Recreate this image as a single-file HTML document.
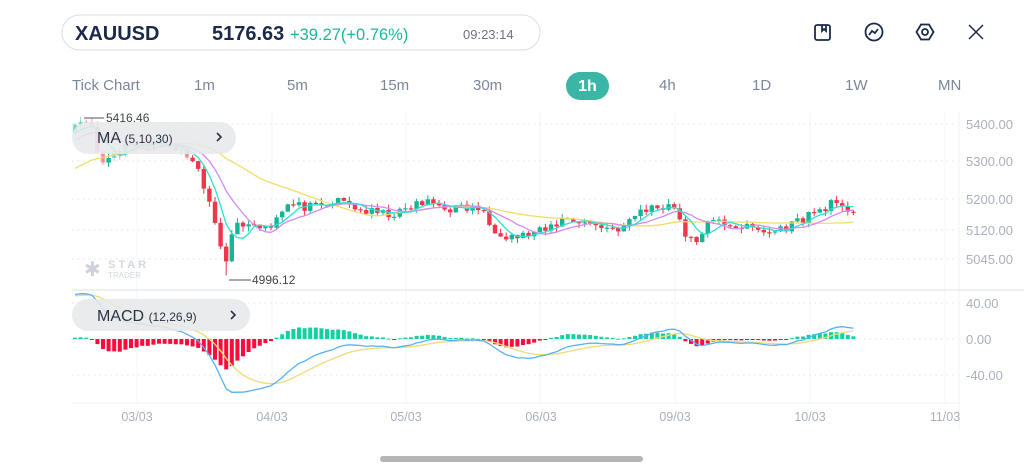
<!DOCTYPE html>
<html><head><meta charset="utf-8"><style>
html,body{margin:0;padding:0;background:#fff;width:1024px;height:471px;overflow:hidden;font-family:"Liberation Sans",sans-serif}
</style></head><body>
<svg id="s" width="1024" height="471" xmlns="http://www.w3.org/2000/svg" font-family="Liberation Sans, sans-serif">
<rect x="62" y="15" width="478" height="35" rx="17.5" fill="#fff" stroke="#d9dee6"/>
<text x="75" y="40" font-size="20" font-weight="bold" fill="#1b2a4a">XAUUSD</text>
<text x="212" y="40" font-size="20" font-weight="bold" fill="#1b2a4a">5176.63</text>
<text x="290" y="40" font-size="16.5" fill="#1fb59b">+39.27(+0.76%)</text>
<text x="463" y="39" font-size="13" fill="#6b7385">09:23:14</text>
<g stroke="#1b2a4a" stroke-width="1.8" fill="none">
<rect x="815" y="25" width="15" height="15" rx="2"/><path d="M822 25v6l2-2 2 2v-6"/>
<circle cx="874" cy="32" r="8.5"/><path d="M869 35l3-4 3 2 3-4"/>
<path d="M921 24.5h8l4.5 7.5-4.5 7.5h-8l-4.5-7.5z"/><circle cx="925" cy="32" r="3"/>
<path d="M969 25l14 14M983 25l-14 14" stroke-width="1.5"/>
</g>
<g font-size="15" fill="#7c8699">
<text x="72" y="90">Tick Chart</text><text x="194" y="90">1m</text><text x="287" y="90">5m</text>
<text x="380" y="90">15m</text><text x="473" y="90">30m</text><text x="659" y="90">4h</text>
<text x="752" y="90">1D</text><text x="845" y="90">1W</text><text x="938" y="90">MN</text>
</g>
<rect x="566" y="72" width="43" height="28" rx="14" fill="#3bb5a5"/>
<text x="587.5" y="91" font-size="16" font-weight="bold" fill="#fff" text-anchor="middle">1h</text>
<g id="grid"></g>
<g id="plot"></g>
<g fill="#c8cdd6" opacity="0.9"><text x="84" y="276" font-size="20">✱</text></g>
<text x="108" y="268" font-size="11" font-weight="bold" fill="#d4d8de" letter-spacing="3">STAR</text>
<text x="108" y="278" font-size="8" fill="#d4d8de">TRADER</text>
<rect x="72" y="122" width="164" height="32" rx="16" fill="#e6e8eb" opacity="0.88"/>
<text x="97" y="143" font-size="16" fill="#2b3344">MA <tspan font-size="12">(5,10,30)</tspan></text>
<path d="M217 133l4 4-4 4" stroke="#2b3344" stroke-width="1.6" fill="none"/>
<rect x="72" y="299" width="178" height="32" rx="16" fill="#e6e8eb" opacity="0.88"/>
<text x="97" y="321" font-size="16" fill="#2b3344">MACD <tspan font-size="12">(12,26,9)</tspan></text>
<path d="M231 311l4 4-4 4" stroke="#2b3344" stroke-width="1.6" fill="none"/>
<line x1="84" y1="118" x2="104" y2="118" stroke="#555"/><text x="106" y="122" font-size="12" fill="#444">5416.46</text>
<line x1="229" y1="280" x2="251" y2="280" stroke="#555"/><text x="252" y="284" font-size="12" fill="#444">4996.12</text>
<rect x="380" y="456" width="263" height="6" rx="3" fill="#b5b5b5"/>
</svg>
<script>
var S=document.getElementById('s'),G=document.getElementById('grid'),P=document.getElementById('plot');
var h='';
[137,272,406,540,675,810,945].forEach(function(x){h+='<line x1="'+x+'" y1="112" x2="'+x+'" y2="403" stroke="#f2f4f7"/>';});
h+='<line x1="959" y1="112" x2="959" y2="430" stroke="#eef0f4"/>';
h+='<line x1="72" y1="290" x2="1024" y2="290" stroke="#dde1ea"/><line x1="72" y1="403" x2="959" y2="403" stroke="#f0f2f5"/>';
[[124,'5400.00'],[161,'5300.00'],[199,'5200.00'],[230,'5120.00'],[259,'5045.00'],[303,'40.00'],[339,'0.00'],[375,'-40.00']].forEach(function(a){
h+='<line x1="72" y1="'+a[0]+'" x2="956" y2="'+a[0]+'" stroke="#dfe2e8" stroke-dasharray="1.5,4"/>';
h+='<text x="966" y="'+(a[0]+5)+'" font-size="13" fill="#aab0bd">'+a[1]+'</text>';});
[[137,'03/03'],[272,'04/03'],[406,'05/03'],[541,'06/03'],[675,'09/03'],[810,'10/03'],[945,'11/03']].forEach(function(a){
h+='<text x="'+a[0]+'" y="421" font-size="12.5" fill="#aab0bd" text-anchor="middle">'+a[1]+'</text>';});
G.innerHTML=h;
var K=[[74,5390],[90,5400],[100,5290],[110,5320],[130,5340],[150,5350],[170,5335],[185,5320],[200,5260],[210,5180],[218,5110],[225,5030],[232,5120],[245,5140],[260,5125],[270,5130],[285,5185],[300,5180],[320,5175],[340,5195],[350,5185],[360,5170],[380,5160],[400,5162],[415,5185],[430,5190],[450,5175],[480,5175],[490,5130],[505,5105],[520,5100],[545,5115],[565,5150],[590,5135],[610,5122],[625,5125],[640,5170],[660,5180],[670,5185],[678,5172],[685,5100],[695,5080],[705,5130],[720,5140],[735,5130],[760,5115],[770,5110],[790,5130],[810,5160],[820,5170],[830,5190],[840,5170],[858,5176]];
function interp(x){for(var i=1;i<K.length;i++){if(x<=K[i][0]){var a=K[i-1],b=K[i];return a[1]+(b[1]-a[1])*(x-a[0])/(b[0]-a[0]);}}return K[K.length-1][1];}
var seed=11;function rnd(){seed=(seed*16807)%2147483647;return seed/2147483647;}
var closes=[],xs=[];
for(var i=0;i<45;i++){closes.push(5060+320*i/44+(rnd()-.5)*20);xs.push(null);}
var step=5.6;for(var x=75;x<=859;x+=step){closes.push(interp(x)+(rnd()-.5)*26);xs.push(x);}
function py(v){return 124+(5400-v)*0.375;}
function my(v){return 339-v*0.9;}
var ma=function(n,i){if(i<n-1)return null;var s=0;for(var j=i-n+1;j<=i;j++)s+=closes[j];return s/n;};
function ema(arr,n){var k=2/(n+1),o=[],e=arr[0];for(var i=0;i<arr.length;i++){e=i?arr[i]*k+e*(1-k):arr[i];o.push(e);}return o;}
var e12=ema(closes,12),e26=ema(closes,26),macd=e12.map(function(v,i){return v-e26[i];}),sig=ema(macd,9);
var out='',paths={5:'',10:'',30:''},mp='',sp='';
for(var i=45;i<closes.length;i++){
var x=xs[i],o=closes[i-1],c=closes[i],hi=Math.max(o,c)+rnd()*14,lo=Math.min(o,c)-rnd()*14;
if(i==48)hi=5416;if(Math.abs(x-228)<3)lo=4996;
var col=c>=o?'#17b597':'#f0364a';
var dim=(x<240&&py(Math.max(o,c))<156&&py(Math.min(o,c))>122)?' opacity="0.45"':'';
out+='<line x1="'+x.toFixed(1)+'" y1="'+py(hi).toFixed(1)+'" x2="'+x.toFixed(1)+'" y2="'+py(lo).toFixed(1)+'" stroke="'+col+'"'+dim+'/>';
var t=py(Math.max(o,c)),b=py(Math.min(o,c));out+='<rect x="'+(x-2.2).toFixed(1)+'" y="'+t.toFixed(1)+'" width="4.4" height="'+Math.max(1.2,b-t).toFixed(1)+'" fill="'+col+'"'+dim+'/>';
[5,10,30].forEach(function(n){var v=ma(n,i);paths[n]+=(paths[n]?'L':'M')+x.toFixed(1)+' '+py(v).toFixed(1);});
var hv=macd[i]-sig[i];var hy=my(hv);
out+='<rect x="'+(x-2).toFixed(1)+'" y="'+Math.min(hy,339).toFixed(1)+'" width="4" height="'+Math.max(1,Math.abs(hy-339)).toFixed(1)+'" fill="'+(hv>=0?'#14d0a0':'#ff0a3a')+'"/>';
mp+=(mp?'L':'M')+x.toFixed(1)+' '+Math.min(400,Math.max(293,my(macd[i]))).toFixed(1);
sp+=(sp?'L':'M')+x.toFixed(1)+' '+Math.min(400,Math.max(293,my(sig[i]))).toFixed(1);
}
out+='<path d="'+paths[30]+'" stroke="#f2dc6a" fill="none" stroke-width="1.3"/>';
out+='<path d="'+paths[10]+'" stroke="#d38af5" fill="none" stroke-width="1.3"/>';
out+='<path d="'+paths[5]+'" stroke="#2fe0d0" fill="none" stroke-width="1.3"/>';
out+='<path d="'+sp+'" stroke="#f0dc70" fill="none" stroke-width="1.3"/>';
out+='<path d="'+mp+'" stroke="#5ab0f5" fill="none" stroke-width="1.3"/>';
P.innerHTML=out;
</script>
</body></html>
